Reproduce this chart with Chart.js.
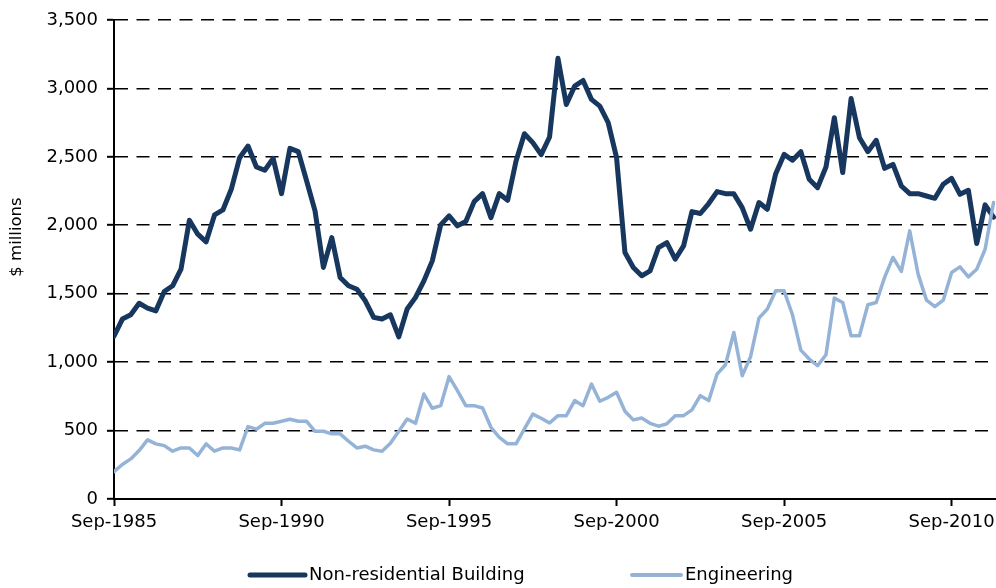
<!DOCTYPE html>
<html>
<head>
<meta charset="utf-8">
<title>Non-residential Building and Engineering</title>
<script src="https://cdn.jsdelivr.net/npm/chart.js@4/dist/chart.umd.min.js"></script>
<style>
  html, body { margin: 0; padding: 0; background: #fff; }
  #wrap { width: 996px; height: 588px; }
</style>
</head>
<body>
<div id="wrap"><canvas id="chart" width="996" height="588"></canvas></div>
<script>
// quarterly, Sep-1985 .. Dec-2011 ($ millions)
const tickLabels = ["Sep-1985", "Sep-1990", "Sep-1995", "Sep-2000", "Sep-2005", "Sep-2010"];
const yTicks = [0, 500, 1000, 1500, 2000, 2500, 3000, 3500];

const nonResidential = [
  1190, 1315, 1346, 1430, 1395, 1375, 1516, 1558, 1680, 2037,
  1935, 1879, 2076, 2112, 2263, 2494, 2579, 2426, 2402, 2489,
  2231, 2562, 2538, 2324, 2105, 1692, 1910, 1619, 1558, 1533,
  1448, 1327, 1315, 1346, 1185, 1388, 1473, 1594, 1740, 2003,
  2069, 1996, 2027, 2173, 2231, 2056, 2231, 2183, 2470, 2669,
  2604, 2516, 2645, 3220, 2883, 3017, 3058, 2920, 2871, 2750,
  2494, 1801, 1692, 1631, 1667, 1837, 1874, 1752, 1849, 2100,
  2086, 2159, 2246, 2231, 2231, 2129, 1971, 2166, 2117, 2377,
  2518, 2475, 2538, 2336, 2275, 2426, 2786, 2385, 2927, 2640,
  2538, 2621, 2416, 2445, 2287, 2231, 2231, 2214, 2197, 2300,
  2343, 2226, 2256, 1867, 2149, 2060
];

const engineering = [
  200, 252, 293, 354, 432, 403, 390, 349, 373, 373,
  318, 403, 349, 373, 373, 359, 529, 510, 553, 553,
  568, 583, 568, 568, 495, 495, 476, 476, 422, 373,
  386, 359, 349, 408, 495, 585, 553, 767, 663, 682,
  894, 792, 682, 682, 665, 524, 451, 403, 403, 512,
  620, 590, 555, 609, 609, 719, 682, 840, 714, 743,
  780, 641, 578, 592, 553, 532, 549, 609, 609, 651,
  755, 719, 913, 981, 1217, 901, 1040, 1322, 1388, 1521,
  1521, 1346, 1088, 1023, 974, 1054, 1468, 1436, 1193, 1193,
  1419, 1436, 1619, 1765, 1663, 1959, 1643, 1453, 1405, 1453,
  1655, 1696, 1623, 1679, 1825, 2166
];

const seriesNames = ["Non-residential Building", "Engineering"];
const seriesColors = ["#17375E", "#95B3D7"];
const yTitle = "$ millions";

const FONT = "DejaVu Sans";
Chart.defaults.font.family = FONT;
Chart.defaults.font.size = 18;
Chart.defaults.color = "#000";

const toPoints = arr => arr.map((v, i) => ({ x: i, y: v }));

// y title + legend drawn by hand so they sit where the original has them
const extras = {
  id: "extras",
  afterDraw(chart) {
    const ctx = chart.ctx;
    ctx.save();
    ctx.fillStyle = "#000";
    ctx.font = "16.5px " + FONT;
    ctx.textAlign = "center";
    ctx.textBaseline = "middle";
    ctx.translate(17, 237);
    ctx.rotate(-Math.PI / 2);
    ctx.fillText(yTitle, 0, 0);
    ctx.restore();

    const starts = [250, 632];
    const lens = [55, 49];
    const widths = [5, 4];
    const ly = 575;
    ctx.save();
    ctx.font = "18px " + FONT;
    ctx.textBaseline = "middle";
    ctx.textAlign = "left";
    chart.data.datasets.forEach((ds, i) => {
      ctx.strokeStyle = ds.borderColor;
      ctx.lineWidth = widths[i];
      ctx.lineCap = "round";
      ctx.beginPath();
      ctx.moveTo(starts[i], ly);
      ctx.lineTo(starts[i] + lens[i], ly);
      ctx.stroke();
      ctx.fillStyle = "#000";
      ctx.fillText(ds.label, starts[i] + lens[i] + 4, ly);
    });
    ctx.restore();
  }
};

new Chart(document.getElementById("chart"), {
  type: "line",
  data: {
    datasets: [
      {
        label: seriesNames[0],
        data: toPoints(nonResidential),
        borderColor: seriesColors[0],
        backgroundColor: seriesColors[0],
        borderWidth: 5,
        pointRadius: 0,
        borderJoinStyle: "round",
        borderCapStyle: "round",
        tension: 0,
        order: 2
      },
      {
        label: seriesNames[1],
        data: toPoints(engineering),
        borderColor: seriesColors[1],
        backgroundColor: seriesColors[1],
        borderWidth: 3.5,
        pointRadius: 0,
        borderJoinStyle: "round",
        borderCapStyle: "round",
        tension: 0,
        order: 1
      }
    ]
  },
  options: {
    responsive: false,
    animation: false,
    layout: { padding: { top: 20, right: 0, bottom: 58, left: 0 } },
    plugins: {
      legend: { display: false },
      tooltip: { enabled: false }
    },
    scales: {
      x: {
        type: "linear",
        min: 0,
        max: 105.3,
        afterFit: s => { s.height = 31; s.paddingRight = 0; s.paddingLeft = 0; },
        ticks: {
          stepSize: 20,
          includeBounds: false,
          autoSkip: false,
          maxRotation: 0,
          padding: 6,
          callback: v => tickLabels[v / 20]
        },
        grid: {
          drawOnChartArea: false,
          drawTicks: true,
          tickLength: 7,
          tickWidth: 2,
          color: "#000"
        },
        border: { display: true, color: "#000", width: 2 }
      },
      y: {
        min: 0,
        max: 3500,
        afterFit: s => { s.width = 114; },
        afterBuildTicks: s => { s.ticks = yTicks.map(v => ({ value: v })); },
        ticks: {
          padding: 9,
          callback: v => v.toLocaleString("en-US")
        },
        grid: {
          color: "#000",
          lineWidth: 1.6,
          drawTicks: true,
          tickLength: 7,
          tickWidth: 2,
          tickBorderDash: []
        },
        border: { display: true, color: "#000", width: 2, dash: [13, 8.5] }
      }
    }
  },
  plugins: [extras]
});
</script>
</body>
</html>
